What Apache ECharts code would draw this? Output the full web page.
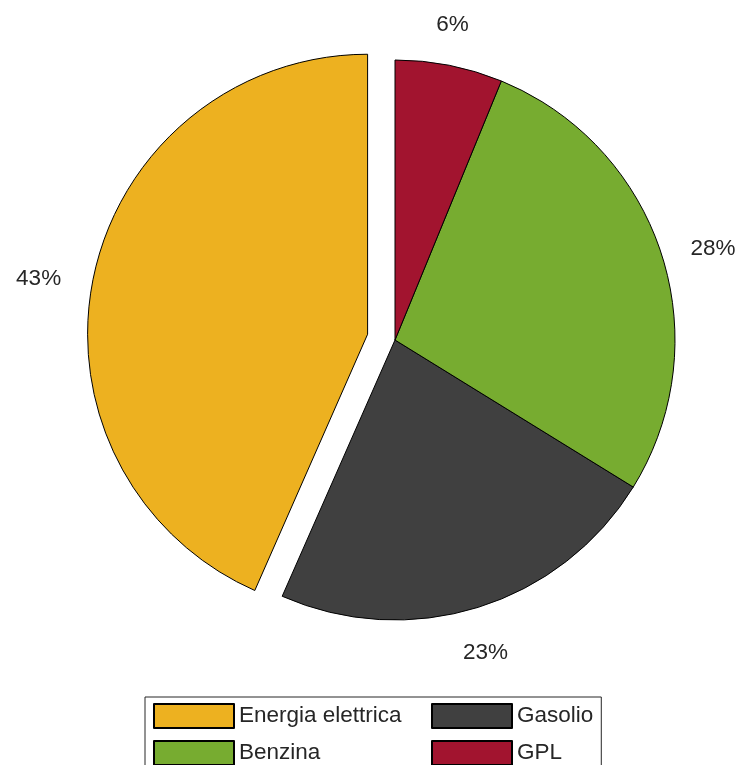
<!DOCTYPE html>
<html>
<head>
<meta charset="utf-8">
<script src="https://cdn.jsdelivr.net/npm/echarts@6/dist/echarts.min.js"></script>
<style>
html,body{margin:0;padding:0;background:#fff;}
#c{width:744px;height:765px;}
</style>
</head>
<body>
<div id="c"></div>
<script>
// Data (order as in original plot, counter-clockwise from 12 o'clock)
const categories = ['Energia elettrica', 'Gasolio', 'Benzina', 'GPL'];
const values = [43.4, 22.8, 27.6, 6.2];
const colors = ['#EDB120', '#404040', '#77AC30', '#A2142F'];
const exploded = [true, false, false, false];
// small label nudges (px) to mimic the original text placement
const labelNudge = [[-8, 12], [-7, 0], [6, 10], [-6, 7]];

const chart = echarts.init(document.getElementById('c'), null, {renderer: 'canvas'});
const font = 'Liberation Sans, Arial, Helvetica, sans-serif';

const pieData = categories.map((name, i) => ({
  name: name,
  value: values[i],
  selected: exploded[i],
  itemStyle: {color: colors[i]}
}));

chart.setOption({
  animation: false,
  backgroundColor: '#ffffff',
  legend: {
    orient: 'horizontal',
    left: 145,
    top: 697,
    width: 450,
    padding: [6, 8, 6, 8],
    itemGap: 11,
    itemWidth: 80,
    itemHeight: 24,
    icon: 'rect',
    borderColor: '#262626',
    borderWidth: 1,
    selectedMode: false,
    textStyle: {fontFamily: font, fontSize: 22.5, color: '#262626', lineHeight: 24, padding: [0, 0, 0, 0]},
    data: [
      {name: 'Energia elettrica', textStyle: {width: 181}},
      {name: 'Gasolio'},
      {name: 'Benzina', textStyle: {width: 181}},
      {name: 'GPL'}
    ]
  },
  series: [{
    type: 'pie',
    center: [395, 340],
    radius: [0, 280],
    startAngle: 90,
    clockwise: false,
    selectedMode: 'single',
    selectedOffset: 28,
    avoidLabelOverlap: false,
    emphasis: {disabled: true},
    select: {itemStyle: {borderColor: '#000', borderWidth: 1}},
    itemStyle: {borderColor: '#000', borderWidth: 1},
    label: {
      show: true,
      position: 'outside',
      formatter: p => Math.round(p.percent) + '%',
      fontFamily: font,
      fontSize: 22.5,
      color: '#262626',
      distanceToLabelLine: 0,
      alignTo: 'none'
    },
    labelLine: {show: false, length: 48, length2: 0},
    labelLayout: function (p) {
      const n = labelNudge[p.dataIndex];
      return {align: 'center', verticalAlign: 'middle', dx: n[0], dy: n[1]};
    },
    data: pieData
  }]
});
</script>
</body>
</html>
